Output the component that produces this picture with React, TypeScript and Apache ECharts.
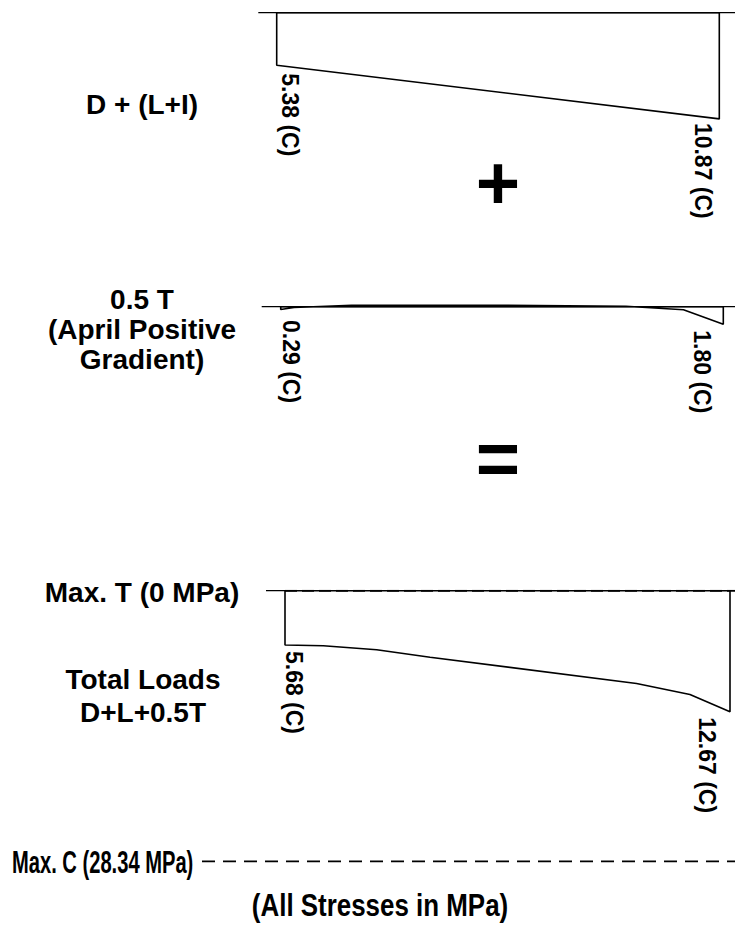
import React, { useEffect, useRef } from "react";
import * as echarts from "echarts";

// ---- data (stress along the span, MPa, compression positive/downward) ----
const spanPos1 = [0, 100];
const stress1 = [5.38, 10.87];

const spanPos2 = [0, 3, 16, 50, 78, 91, 100];
const stress2 = [0.29, 0.08, -0.15, -0.15, -0.05, 0.32, 1.8];

const spanPos3 = [0, 8.6, 20.6, 32.6, 79, 91, 100];
const stress3 = [5.68, 5.77, 6.19, 6.97, 9.72, 10.86, 12.67];

const maxTension = 0;
const maxCompression = 28.34;

const panelTitles = ["D + (L+I)", "0.5 T\n(April Positive\nGradient)", "Total Loads\nD+L+0.5T"];
const footNote = "(All Stresses in MPa)";

// ---- layout (pixels) ----
const W = 735;
const panels = [
  { pos: spanPos1, val: stress1, base: 12.7, left: 258.3, x0: 276.7, x100: 719.3, yMin: 0, yMax: 12, scale: 9.77 },
  { pos: spanPos2, val: stress2, base: 306.7, left: 261.7, x0: 280.7, x100: 723.3, yMin: -1, yMax: 2, scale: 9.77 },
  { pos: spanPos3, val: stress3, base: 590.7, left: 200, x0: 285, x100: 730, yMin: 0, yMax: 30, scale: 9.55 },
];
const labelLayout = [
  { lx: 1.5, ldy: 8, rx: -4.5, rdy: 4 },
  { lx: -1, ldy: 10.5, rx: -9.5, rdy: 6 },
  { lx: -2.5, ldy: 6, rx: -12, rdy: 5.5 },
];
const FONT = "'Liberation Sans', Arial, Helvetica, sans-serif";

export default function App() {
  const ref = useRef<HTMLDivElement>(null);
  useEffect(() => {
    document.body.style.margin = "0";
    const chart = echarts.init(ref.current!, null, { renderer: "svg" });

    const grids: any[] = [];
    const xAxes: any[] = [];
    const yAxes: any[] = [];
    const series: any[] = [];
    const pxX: ((px: number) => number)[] = [];

    panels.forEach((p, i) => {
      const ppu = (p.x100 - p.x0) / 100;
      const xMin = (p.left - p.x0) / ppu;
      const xMax = (W - p.x0) / ppu;
      pxX.push((px: number) => (px - p.x0) / ppu);
      grids.push({
        left: p.left,
        top: p.base + p.yMin * p.scale,
        width: W - p.left,
        height: (p.yMax - p.yMin) * p.scale,
      });
      xAxes.push({ type: "value", gridIndex: i, min: xMin, max: xMax, show: false });
      yAxes.push({ type: "value", gridIndex: i, min: p.yMin, max: p.yMax, inverse: true, show: false });
      const n = p.pos.length;
      const poly = [[p.pos[0], 0]]
        .concat(p.pos.map((x, k) => [x, p.val[k]]))
        .concat([[p.pos[n - 1], 0], [p.pos[0], 0]]);
      // baseline (zero stress)
      series.push({
        type: "line",
        xAxisIndex: i,
        yAxisIndex: i,
        data: i === 2 ? [[pxX[2](266), 0], [p.pos[0], 0]] : [[xMin, 0], [xMax, 0]],
        symbol: "none",
        silent: true,
        lineStyle: { color: "#000", width: 1.3 },
      });
      series.push({
        type: "line",
        xAxisIndex: i,
        yAxisIndex: i,
        data: poly,
        symbol: "none",
        silent: true,
        clip: false,
        lineStyle: { color: "#000", width: 1.6 },
      });
    });

    const xEnd3 = pxX[2](W);
    // limits in panel 3
    series.push({
      type: "line",
      xAxisIndex: 2,
      yAxisIndex: 2,
      data: [[0, maxTension], [xEnd3, maxTension]],
      symbol: "none",
      silent: true,
      lineStyle: { color: "#000", width: 2, type: [12, 5] },
    });
    series.push({
      type: "line",
      xAxisIndex: 2,
      yAxisIndex: 2,
      data: [[pxX[2](202), maxCompression], [xEnd3, maxCompression]],
      symbol: "none",
      silent: true,
      clip: false,
      lineStyle: { color: "#000", width: 1.6, type: [13, 8] },
    });

    chart.setOption({
      animation: false,
      backgroundColor: "#fff",
      grid: grids,
      xAxis: xAxes,
      yAxis: yAxes,
      series,
    });

    const toPx = (gi: number, x: number, y: number) =>
      chart.convertToPixel({ xAxisIndex: gi, yAxisIndex: gi } as any, [x, y]) as number[];

    const graphics: any[] = [];
    const txt = (x: number, y: number, text: string, size: number, extra: any = {}, styleExtra: any = {}) => ({
      type: "text",
      x,
      y,
      ...extra,
      style: {
        text,
        fill: "#000",
        fontSize: size,
        fontWeight: "bold",
        fontFamily: FONT,
        align: "center",
        verticalAlign: "middle",
        ...styleExtra,
      },
    });

    panels.forEach((p, i) => {
      const n = p.pos.length;
      const L = toPx(i, p.pos[0], p.val[0]);
      const R = toPx(i, p.pos[n - 1], p.val[n - 1]);
      const lay = labelLayout[i];
      graphics.push(
        txt(L[0] + lay.lx, L[1] + lay.ldy, `${p.val[0].toFixed(2)} (C)`, 23, { rotation: -Math.PI / 2 }, { align: "left", verticalAlign: "bottom" })
      );
      graphics.push(
        txt(R[0] + lay.rx, R[1] + lay.rdy, `${p.val[n - 1].toFixed(2)} (C)`, 23, { rotation: -Math.PI / 2 }, { align: "left", verticalAlign: "top" })
      );
    });

    graphics.push(txt(142, 104, panelTitles[0], 28));
    graphics.push(txt(142, 329, panelTitles[1], 28, {}, { lineHeight: 30 }));
    const tY = toPx(2, 0, maxTension)[1];
    const cY = toPx(2, 0, maxCompression)[1];
    graphics.push(txt(142, tY + 2, `Max. T (${maxTension} MPa)`, 28));
    graphics.push(txt(143, 696, panelTitles[2], 28, {}, { lineHeight: 33 }));
    graphics.push(txt(12, cY + 1, `Max. C (${maxCompression.toFixed(2)} MPa)`, 31, { scaleX: 0.65 }, { align: "left" }));
    graphics.push(txt(380, 905, footNote, 32, { scaleX: 0.81 }, { align: "center" }));
    graphics.push(txt(498, 182, "+", 76));
    graphics.push(txt(498, 458, "=", 76));

    chart.setOption({ graphic: graphics });

    return () => chart.dispose();
  }, []);
  return <div ref={ref} style={{ width: W, height: 939 }} />;
}
